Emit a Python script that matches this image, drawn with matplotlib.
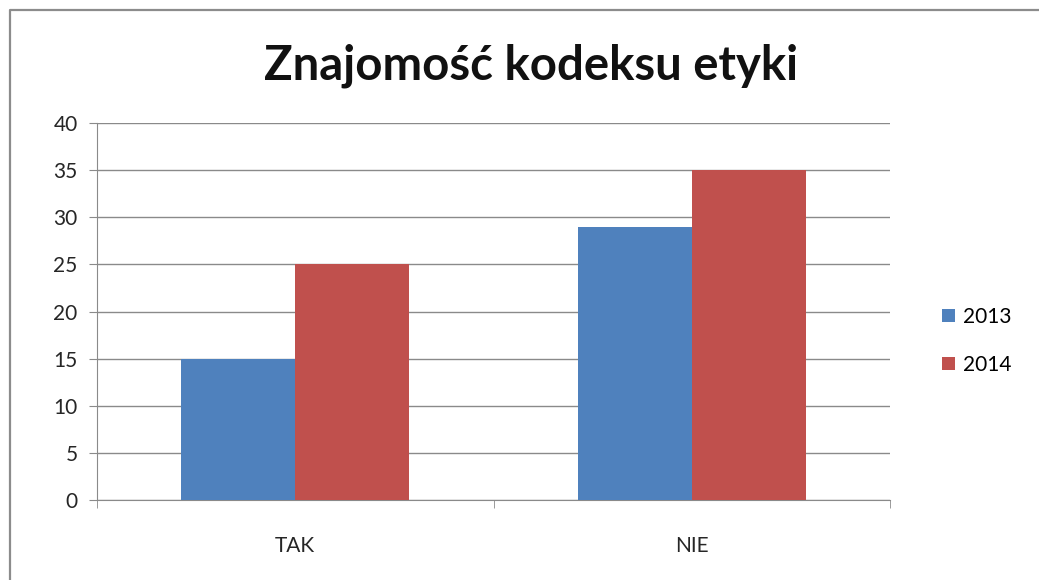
import matplotlib
matplotlib.use("Agg")
import matplotlib.pyplot as plt
from matplotlib.lines import Line2D
import numpy as np

# values
cats = ["TAK", "NIE"]
years = ["2013", "2014"]
v2013 = [15, 29]
v2014 = [25, 35]
yticks = [0, 5, 10, 15, 20, 25, 30, 35, 40]

cols = {"2013": "#4F81BD", "2014": "#C0504D"}
plt.rcParams["font.family"] = ["Lato", "DejaVu Sans"]

W, H = 1039, 580
fig = plt.figure(figsize=(W/100, H/100), dpi=100)
# only left and top of the outer frame are visible (image is cropped)
fig.lines.append(Line2D([10/W, 10/W, 1.0], [0.0, 1-10/H, 1-10/H], transform=fig.transFigure,
                        color="#8c8c8c", lw=1.6))

ax = fig.add_axes([97/W, 1-500/H, (890-97)/W, (500-123)/H])
x = np.arange(len(cats))
bw = 0.287
ax.bar(x-bw/2, v2013, bw, color=cols["2013"], label="2013", zorder=3)
ax.bar(x+bw/2, v2014, bw, color=cols["2014"], label="2014", zorder=3)

ax.set_xlim(-0.5, 1.5)
ax.set_ylim(0, 40)
ax.set_yticks(yticks)
ax.set_yticklabels([str(t) for t in yticks], fontsize=15, color="#262626")
ax.yaxis.grid(True, color="#8a8a8a", lw=1, zorder=0)
ax.set_xticks(x)
ax.set_xticklabels(cats, fontsize=15, color="#262626")
ax.tick_params(axis="x", length=0, pad=26)
ax.set_xticks([-0.5, 0.5, 1.5], minor=True)
ax.tick_params(axis="x", which="minor", length=6, color="#8a8a8a", direction="out")
ax.tick_params(axis="y", length=6, color="#8a8a8a", pad=8)
for s in ["top", "right"]:
    ax.spines[s].set_visible(False)
for s in ["left", "bottom"]:
    ax.spines[s].set_color("#8a8a8a")

fig.text(531/W, 1-66/H, "Znajomość kodeksu etyki", fontsize=34, fontweight="bold",
         ha="center", va="center", color="#111111")

leg = fig.legend(loc="center left", bbox_to_anchor=(932/W, 1-341/H), frameon=False,
                 fontsize=15, handlelength=0.6, handleheight=0.6, handletextpad=0.4,
                 labelspacing=1.35, borderpad=0)

fig.savefig("out.png", dpi=100)
